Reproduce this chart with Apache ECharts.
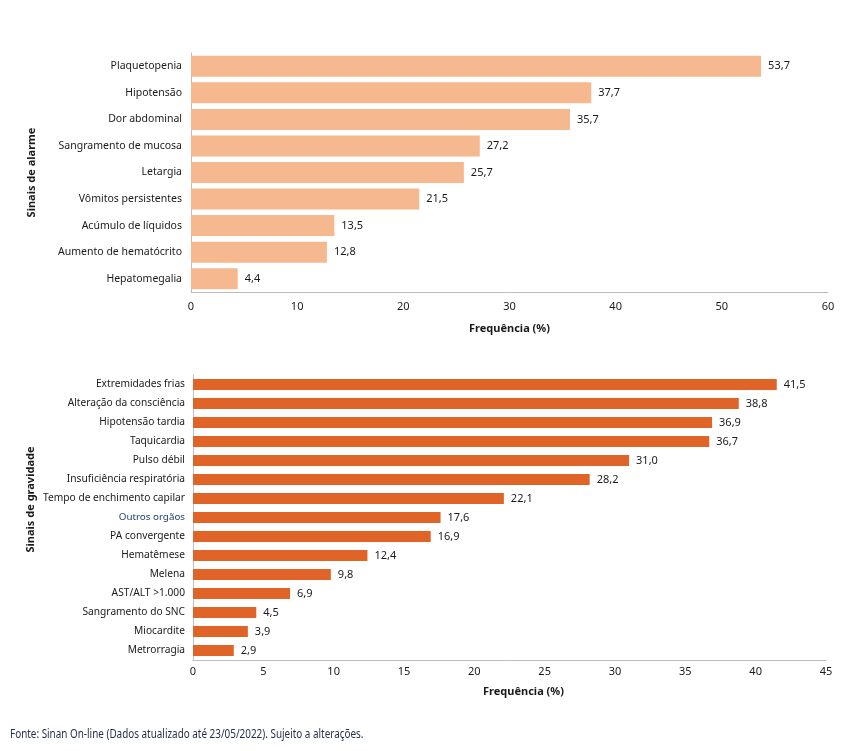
<!DOCTYPE html>
<html>
<head>
<meta charset="utf-8">
<script src="https://cdn.jsdelivr.net/npm/echarts@6/dist/echarts.min.js"></script>
<style>
  html, body { margin: 0; padding: 0; background: #fff; }
  #chart { width: 860px; height: 751px; }
</style>
</head>
<body>
<div id="chart"></div>
<script>
// sinais de alarme (top panel)
var alarmeCats = ['Plaquetopenia', 'Hipotensão', 'Dor abdominal', 'Sangramento de mucosa', 'Letargia',
  'Vômitos persistentes', 'Acúmulo de líquidos', 'Aumento de hematócrito', 'Hepatomegalia'];
var alarmeVals = [53.7, 37.7, 35.7, 27.2, 25.7, 21.5, 13.5, 12.8, 4.4];

// sinais de gravidade (bottom panel)
var gravCats = ['Extremidades frias', 'Alteração da consciência', 'Hipotensão tardia', 'Taquicardia', 'Pulso débil',
  'Insuficiência respiratória', 'Tempo de enchimento capilar', 'Outros orgãos', 'PA convergente', 'Hematêmese',
  'Melena', 'AST/ALT >1.000', 'Sangramento do SNC', 'Miocardite', 'Metrorragia'];
var gravVals = [41.5, 38.8, 36.9, 36.7, 31.0, 28.2, 22.1, 17.6, 16.9, 12.4, 9.8, 6.9, 4.5, 3.9, 2.9];

var fontFam = '"Noto Sans", "Open Sans", sans-serif';
var txt = '#1a1a1a';
var axisGray = '#bdbdbd';

function fmt(p) {
  return p.value.toFixed(1).replace('.', ',');
}

var chart = echarts.init(document.getElementById('chart'));

var option = {
  backgroundColor: '#fff',
  animation: false,
  textStyle: {fontFamily: fontFam},
  grid: [
    {left: 191, right: 32, top: 53, height: 239},
    {left: 193, right: 34, top: 375, height: 285}
  ],
  xAxis: [
    {
      gridIndex: 0, type: 'value', min: 0, max: 60, interval: 10,
      name: 'Frequência (%)', nameLocation: 'middle', nameGap: 31, nameMoveOverlap: false,
      nameTextStyle: {fontSize: 11, fontWeight: 'bold', color: txt, fontFamily: fontFam},
      axisLine: {show: true, lineStyle: {color: axisGray, width: 1}},
      axisTick: {show: false},
      splitLine: {show: false},
      axisLabel: {fontSize: 11, color: txt, margin: 9, fontFamily: fontFam}
    },
    {
      gridIndex: 1, type: 'value', min: 0, max: 45, interval: 5,
      name: 'Frequência (%)', nameLocation: 'middle', nameGap: 26, nameMoveOverlap: false,
      nameTextStyle: {fontSize: 11, fontWeight: 'bold', color: txt, fontFamily: fontFam, padding: [0, 0, 0, 28]},
      axisLine: {show: true, lineStyle: {color: axisGray, width: 1}},
      axisTick: {show: false},
      splitLine: {show: false},
      axisLabel: {fontSize: 11, color: txt, margin: 6, fontFamily: fontFam}
    }
  ],
  yAxis: [
    {
      gridIndex: 0, type: 'category', data: alarmeCats, inverse: true,
      name: 'Sinais de alarme', nameLocation: 'middle', nameGap: 154, nameRotate: 90, nameMoveOverlap: false,
      nameTextStyle: {fontSize: 11, fontWeight: 'bold', color: txt, fontFamily: fontFam},
      axisLine: {show: true, lineStyle: {color: axisGray, width: 1}},
      axisTick: {show: false},
      axisLabel: {fontSize: 10.5, color: txt, margin: 9, fontFamily: fontFam}
    },
    {
      gridIndex: 1, type: 'category', data: gravCats, inverse: true,
      name: 'Sinais de gravidade', nameLocation: 'middle', nameGap: 157, nameRotate: 90, nameMoveOverlap: false,
      nameTextStyle: {fontSize: 11, fontWeight: 'bold', color: txt, fontFamily: fontFam, padding: [0, 0, 0, 36]},
      axisLine: {show: true, lineStyle: {color: axisGray, width: 1}},
      axisTick: {show: false},
      axisLabel: {
        fontSize: 10.2, color: txt, margin: 8, fontFamily: fontFam,
        formatter: function (v) {
          return v === 'Outros orgãos' ? '{blue|' + v + '}' : v;
        },
        rich: {blue: {color: '#1f3c6e', fontSize: 9.8, fontFamily: fontFam}}
      }
    }
  ],
  series: [
    {
      type: 'bar', xAxisIndex: 0, yAxisIndex: 0, data: alarmeVals, barWidth: 21,
      itemStyle: {color: '#F5B88F'},
      label: {show: true, position: 'right', distance: 7, formatter: fmt, fontSize: 11, color: txt, fontFamily: fontFam}
    },
    {
      type: 'bar', xAxisIndex: 1, yAxisIndex: 1, data: gravVals, barWidth: 11,
      itemStyle: {color: '#E06428'},
      label: {show: true, position: 'right', distance: 7, formatter: fmt, fontSize: 11, color: txt, fontFamily: fontFam}
    }
  ],
  graphic: [
    {
      type: 'text', left: 10, top: 729, scaleX: 0.825, originX: 0,
      style: {
        text: 'Fonte: Sinan On-line (Dados atualizado até 23/05/2022). Sujeito a alterações.',
        fontSize: 12, fontFamily: '"Noto Sans", sans-serif',
        fill: '#1f2d4a'
      }
    }
  ]
};

chart.setOption(option);
</script>
</body>
</html>
